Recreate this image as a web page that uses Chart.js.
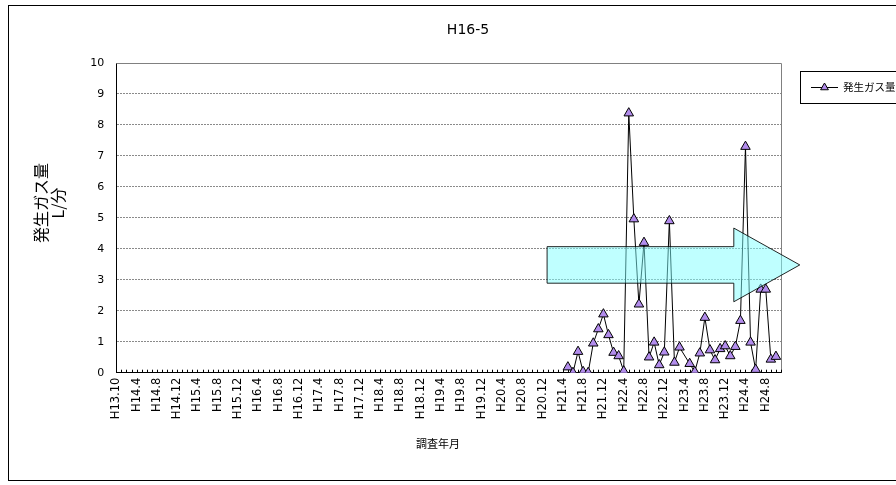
<!DOCTYPE html>
<html>
<head>
<meta charset="utf-8">
<script src="https://cdn.jsdelivr.net/npm/chart.js@4.4.0/dist/chart.umd.min.js"></script>
<style>
	html, body { margin: 0; padding: 0; background: #fff; overflow: hidden; }
</style>
</head>
<body>
<canvas id="myChart" width="896" height="485"></canvas>
<script>
/*
Gas volume chart, well H16-5
*/

// categories (survey year/month)
const months = [
	'H13.10', 'H13.12', 'H14.2', 'H14.3',
	'H14.4', 'H14.5', 'H14.6', 'H14.7', 'H14.8', 'H14.9', 'H14.10', 'H14.11', 'H14.12',
	'H15.1', 'H15.2', 'H15.3', 'H15.4', 'H15.5', 'H15.6', 'H15.7', 'H15.8', 'H15.9', 'H15.10', 'H15.11', 'H15.12',
	'H16.1', 'H16.2', 'H16.3', 'H16.4', 'H16.5', 'H16.6', 'H16.7', 'H16.8', 'H16.9', 'H16.10', 'H16.11', 'H16.12',
	'H17.1', 'H17.2', 'H17.3', 'H17.4', 'H17.5', 'H17.6', 'H17.7', 'H17.8', 'H17.9', 'H17.10', 'H17.11', 'H17.12',
	'H18.1', 'H18.2', 'H18.3', 'H18.4', 'H18.5', 'H18.6', 'H18.7', 'H18.8', 'H18.9', 'H18.10', 'H18.11', 'H18.12',
	'H19.1', 'H19.2', 'H19.3', 'H19.4', 'H19.5', 'H19.6', 'H19.7', 'H19.8', 'H19.9', 'H19.10', 'H19.11', 'H19.12',
	'H20.1', 'H20.2', 'H20.3', 'H20.4', 'H20.5', 'H20.6', 'H20.7', 'H20.8', 'H20.9', 'H20.10', 'H20.11', 'H20.12',
	'H21.1', 'H21.2', 'H21.3', 'H21.4', 'H21.5', 'H21.6', 'H21.7', 'H21.8', 'H21.9', 'H21.10', 'H21.11', 'H21.12',
	'H22.1', 'H22.2', 'H22.3', 'H22.4', 'H22.5', 'H22.6', 'H22.7', 'H22.8', 'H22.9', 'H22.10', 'H22.11', 'H22.12',
	'H23.1', 'H23.2', 'H23.3', 'H23.4', 'H23.5', 'H23.6', 'H23.7', 'H23.8', 'H23.9', 'H23.10', 'H23.11', 'H23.12',
	'H24.1', 'H24.2', 'H24.3', 'H24.4', 'H24.5', 'H24.6', 'H24.7', 'H24.8', 'H24.9', 'H24.10', 'H24.11'
];

// tick labels actually printed under the axis
const shownLabels = [
	'H13.10', 'H14.4', 'H14.8', 'H14.12', 'H15.4', 'H15.8', 'H15.12', 'H16.4', 'H16.8', 'H16.12',
	'H17.4', 'H17.8', 'H17.12', 'H18.4', 'H18.8', 'H18.12', 'H19.4', 'H19.8', 'H19.12',
	'H20.4', 'H20.8', 'H20.12', 'H21.4', 'H21.8', 'H21.12', 'H22.4', 'H22.8', 'H22.12',
	'H23.4', 'H23.8', 'H23.12', 'H24.4', 'H24.8'
];

// measured gas volume (L/min)
const gasMonths = [
	'H21.5', 'H21.6', 'H21.7', 'H21.8', 'H21.9', 'H21.10', 'H21.11', 'H21.12',
	'H22.1', 'H22.2', 'H22.3', 'H22.4', 'H22.5', 'H22.6', 'H22.7', 'H22.8', 'H22.9', 'H22.10', 'H22.11', 'H22.12',
	'H23.1', 'H23.2', 'H23.3', 'H23.5', 'H23.6', 'H23.7', 'H23.8', 'H23.9', 'H23.10', 'H23.11', 'H23.12',
	'H24.1', 'H24.2', 'H24.3', 'H24.4', 'H24.5', 'H24.6', 'H24.7', 'H24.8', 'H24.9', 'H24.10'
];
const gasValues = [
	0.18, 0.0, 0.68, 0.03, 0.0, 0.95, 1.41, 1.89,
	1.22, 0.65, 0.54, 0.05, 8.38, 4.96, 2.21, 4.2, 0.5, 0.98, 0.25, 0.66,
	4.9, 0.33, 0.82, 0.29, 0.03, 0.63, 1.78, 0.73, 0.41, 0.77, 0.86,
	0.54, 0.84, 1.68, 7.3, 0.98, 0.1, 2.69, 2.69, 0.43, 0.52
];

const yTicks = [0, 1, 2, 3, 4, 5, 6, 7, 8, 9, 10];

// trend arrow, in axis units (category index / value)
const arrowShape = { left: 84.9, neck: 121.7, tip: 134.7, bodyTop: 4.07, bodyBottom: 2.89, headTop: 4.67, headBottom: 2.29, mid: 3.48 };

const latinFont = "'DejaVu Sans', 'Liberation Sans', sans-serif";
const jpFont = "'Noto Sans CJK JP', 'DejaVu Sans', sans-serif";
const markerColor = 'rgb(178, 140, 236)';

const decorPlugin = {
	id: 'decor',
	beforeDatasetsDraw: (chart) => {
		const { ctx, chartArea: a } = chart;
		const xs = chart.scales.x;
		ctx.save();
		ctx.lineWidth = 1;
		// top and right edge of plot area
		ctx.strokeStyle = '#808080';
		ctx.beginPath();
		ctx.moveTo(a.left, Math.round(a.top) + 0.5);
		ctx.lineTo(Math.round(a.right) + 0.5, Math.round(a.top) + 0.5);
		ctx.lineTo(Math.round(a.right) + 0.5, a.bottom);
		ctx.stroke();
		// small inner tick marks on category axis
		ctx.strokeStyle = '#000';
		ctx.beginPath();
		for (let i = 0; i < xs.ticks.length; i++) {
			const px = Math.round(xs.getPixelForTick(i)) + 0.5;
			ctx.moveTo(px, a.bottom);
			ctx.lineTo(px, a.bottom - 3);
		}
		ctx.stroke();
		ctx.restore();
	},
	afterDatasetsDraw: (chart) => {
		const { ctx } = chart;
		const xs = chart.scales.x;
		const ys = chart.scales.y;
		const px = (v) => xs.getPixelForValue(v);
		const py = (v) => ys.getPixelForValue(v);
		ctx.save();
		ctx.beginPath();
		ctx.moveTo(px(arrowShape.left), py(arrowShape.bodyTop));
		ctx.lineTo(px(arrowShape.neck), py(arrowShape.bodyTop));
		ctx.lineTo(px(arrowShape.neck), py(arrowShape.headTop));
		ctx.lineTo(px(arrowShape.tip), py(arrowShape.mid));
		ctx.lineTo(px(arrowShape.neck), py(arrowShape.headBottom));
		ctx.lineTo(px(arrowShape.neck), py(arrowShape.bodyBottom));
		ctx.lineTo(px(arrowShape.left), py(arrowShape.bodyBottom));
		ctx.closePath();
		ctx.fillStyle = 'rgba(128, 255, 255, 0.5)';
		ctx.fill();
		ctx.strokeStyle = 'rgba(0, 0, 0, 0.85)';
		ctx.lineWidth = 1;
		ctx.stroke();
		ctx.restore();
	},
	afterDraw: (chart) => {
		const { ctx } = chart;
		ctx.save();
		ctx.fillStyle = '#000';
		ctx.textAlign = 'center';
		ctx.textBaseline = 'middle';

		// chart title
		ctx.font = '14px ' + latinFont;
		ctx.fillText('H16-5', 468, 30);

		// y axis title (two rotated lines)
		ctx.font = '16px ' + jpFont;
		ctx.save();
		ctx.translate(41, 203);
		ctx.rotate(-Math.PI / 2);
		ctx.fillText('発生ガス量', 0, 0);
		ctx.restore();
		ctx.save();
		ctx.translate(58, 203);
		ctx.rotate(-Math.PI / 2);
		ctx.fillText('L/分', 0, 0);
		ctx.restore();

		// x axis title
		ctx.font = '11px ' + jpFont;
		ctx.fillText('調査年月', 438, 444);

		// legend box
		ctx.strokeStyle = '#000';
		ctx.lineWidth = 1;
		ctx.fillStyle = '#fff';
		ctx.fillRect(800.5, 71.5, 130, 32);
		ctx.strokeRect(800.5, 71.5, 130, 32);
		ctx.beginPath();
		ctx.moveTo(811, 87.5);
		ctx.lineTo(838, 87.5);
		ctx.stroke();
		const r = 4.5;
		ctx.beginPath();
		ctx.moveTo(824.5, 87.5 - r);
		ctx.lineTo(824.5 + r * 0.866, 87.5 + r / 2);
		ctx.lineTo(824.5 - r * 0.866, 87.5 + r / 2);
		ctx.closePath();
		ctx.fillStyle = markerColor;
		ctx.fill();
		ctx.stroke();
		ctx.fillStyle = '#000';
		ctx.textAlign = 'left';
		ctx.font = '10.5px ' + jpFont;
		ctx.fillText('発生ガス量', 843, 87.5);

		// outer chart frame
		ctx.strokeStyle = '#000';
		ctx.strokeRect(8.5, 5.5, 950, 475);
		ctx.restore();
	}
};

const ctx = document.getElementById('myChart').getContext('2d');

const plotData = {
	labels: months,
	datasets: [{
		label: '発生ガス量',
		data: gasMonths.map((m, i) => ({ x: m, y: gasValues[i] })),
		borderColor: '#000',
		borderWidth: 1,
		pointStyle: 'triangle',
		pointRadius: 5.5,
		pointHoverRadius: 5.5,
		pointBackgroundColor: markerColor,
		pointBorderColor: '#000',
		pointBorderWidth: 1,
		fill: false,
		tension: 0,
		spanGaps: true
	}]
};

const config = {
	type: 'line',
	data: plotData,
	options: {
		responsive: false,
		animation: false,
		devicePixelRatio: 1,
		layout: {
			padding: { top: 63, left: 10, right: 115, bottom: 0 }
		},
		scales: {
			x: {
				offset: false,
				ticks: {
					autoSkip: false,
					maxRotation: 90,
					minRotation: 90,
					padding: 5,
					color: '#000',
					font: { family: latinFont, size: 11.5 },
					callback: (value, index) => shownLabels.includes(months[index]) ? months[index] : ''
				},
				grid: { drawOnChartArea: false, drawTicks: false },
				border: { display: true, color: '#000', width: 1 },
				afterFit: (scale) => { scale.height = 112.3; }
			},
			y: {
				min: yTicks[0],
				max: yTicks[yTicks.length - 1],
				ticks: {
					stepSize: 1,
					padding: 12,
					color: '#000',
					font: { family: latinFont, size: 11 }
				},
				grid: { color: '#8a8a8a', lineWidth: 1, drawTicks: false },
				border: { display: true, color: '#000', width: 1, dash: [2, 1] },
				afterFit: (scale) => { scale.width = 106.3; }
			}
		},
		plugins: {
			legend: { display: false },
			tooltip: { enabled: false },
			title: { display: false }
		}
	},
	plugins: [decorPlugin]
};

const myChart = new Chart(ctx, config);
</script>
</body>
</html>
